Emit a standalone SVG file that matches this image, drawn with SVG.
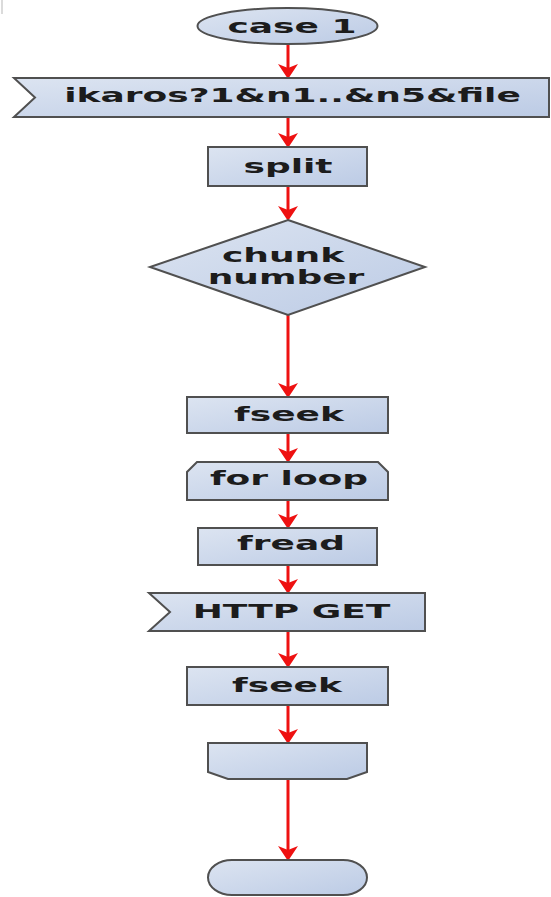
<svg xmlns="http://www.w3.org/2000/svg" width="551" height="897" viewBox="0 0 551 897">
  <defs>
    <linearGradient id="fillGrad" x1="0" y1="0" x2="1" y2="1">
      <stop offset="0" stop-color="#dce4f1"/>
      <stop offset="1" stop-color="#bccbe5"/>
    </linearGradient>
    <marker id="arrowHead" viewBox="0 -10 15 20" markerWidth="15" markerHeight="20" refX="8" refY="0" orient="auto" markerUnits="userSpaceOnUse">
      <path d="M15,0 L0,-10 L4,0 L0,10 Z" fill="#ee1111"/>
    </marker>
    <style>
      .shape { fill: url(#fillGrad); stroke: #505050; stroke-width: 2; stroke-linejoin: miter; }
      .label { font-family: "DejaVu Sans", "Liberation Sans", sans-serif; font-weight: bold; font-size: 20px; fill: #1c1c1c; text-anchor: middle; }
      .flow { stroke: #ee1111; stroke-width: 3; fill: none; marker-end: url(#arrowHead); }
    </style>
  </defs>

  <rect width="551" height="897" fill="#ffffff"/>
  <line x1="2" y1="0" x2="2" y2="14" stroke="#cfcfcf" stroke-width="1.5"/>

  <g id="connectors">
    <line class="flow" x1="288" y1="44" x2="288" y2="72"/>
    <line class="flow" x1="288" y1="117" x2="288" y2="141"/>
    <line class="flow" x1="288" y1="186" x2="288" y2="214"/>
    <line class="flow" x1="288" y1="315" x2="288" y2="391"/>
    <line class="flow" x1="288" y1="433" x2="288" y2="456"/>
    <line class="flow" x1="288" y1="500" x2="288" y2="522"/>
    <line class="flow" x1="288" y1="565" x2="288" y2="587"/>
    <line class="flow" x1="288" y1="631" x2="288" y2="661"/>
    <line class="flow" x1="288" y1="705" x2="288" y2="737"/>
    <line class="flow" x1="288" y1="779" x2="288" y2="854"/>
  </g>

  <g id="start">
    <ellipse class="shape" cx="287.5" cy="26" rx="90" ry="18"/>
    <text class="label" x="0" y="33" transform="translate(292 0) scale(1.8 1)">case 1</text>
  </g>

  <g id="request">
    <polygon class="shape" points="14,78 549,78 549,117 14,117 35,97.5"/>
    <text class="label" x="0" y="102" transform="translate(292.5 0) scale(1.8 1)">ikaros?1&amp;n1..&amp;n5&amp;file</text>
  </g>

  <g id="split">
    <rect class="shape" x="208" y="147" width="159" height="39"/>
    <text class="label" x="0" y="173" transform="translate(288 0) scale(1.8 1)">split</text>
  </g>

  <g id="chunk-number">
    <polygon class="shape" points="288,220 425,267 288,315 150,267"/>
    <text class="label" x="0" y="262" transform="translate(283 0) scale(1.8 1)">chunk</text>
    <text class="label" x="0" y="284" transform="translate(286 0) scale(1.8 1)">number</text>
  </g>

  <g id="fseek-1">
    <rect class="shape" x="187" y="397" width="201" height="36"/>
    <text class="label" x="0" y="421" transform="translate(289 0) scale(1.8 1)">fseek</text>
  </g>

  <g id="for-loop">
    <polygon class="shape" points="197,462 378,462 388,472 388,500 187,500 187,472"/>
    <text class="label" x="0" y="485" transform="translate(289 0) scale(1.8 1)">for loop</text>
  </g>

  <g id="fread">
    <rect class="shape" x="198" y="528" width="179" height="37"/>
    <text class="label" x="0" y="550" transform="translate(291 0) scale(1.8 1)">fread</text>
  </g>

  <g id="http-get">
    <polygon class="shape" points="149,593 425,593 425,631 149,631 170,612"/>
    <text class="label" x="0" y="618" transform="translate(291.5 0) scale(1.8 1)">HTTP GET</text>
  </g>

  <g id="fseek-2">
    <rect class="shape" x="187" y="667" width="201" height="38"/>
    <text class="label" x="0" y="692" transform="translate(287 0) scale(1.8 1)">fseek</text>
  </g>

  <g id="loop-end">
    <polygon class="shape" points="208,743 367,743 367,772 347,779 228,779 208,772"/>
  </g>

  <g id="end">
    <rect class="shape" x="208" y="860" width="159" height="35" rx="24" ry="17.5"/>
  </g>
</svg>
